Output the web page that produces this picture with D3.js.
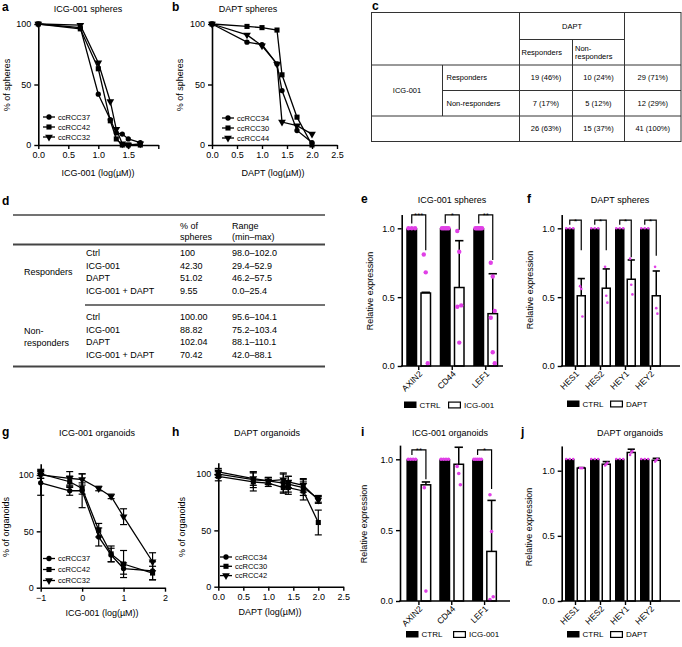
<!DOCTYPE html>
<html><head><meta charset="utf-8">
<script src="https://cdn.jsdelivr.net/npm/d3@7"></script>
<style>
html,body{margin:0;padding:0;background:#fff;}
svg{display:block;}
</style></head><body>
<svg id="fig" width="682" height="647"></svg>
<script>
// ---------------- DATA ----------------
// a: ICG-001 spheres
const aDoses = [0, 0.7, 1.0, 1.2, 1.3, 1.4, 1.5, 1.7];
const aNames = ["ccRCC37", "ccRCC42", "ccRCC32"];
const aRCC37 = [100, 97, 42, 21, 10, 9, 5, 2];
const aRCC42 = [100, 96, 63, 20, 5, 0, 0, 0];
const aRCC32 = [100, 99, 68, 36, 13, 1, 0, 1];
// b: DAPT spheres
const bDoses = [0, 0.7, 1.0, 1.3, 1.4, 1.7, 2.0];
const bNames = ["ccRCC34", "ccRCC30", "ccRCC44"];
const bRCC34 = [100, 85, 83, 67, 45, 12, 2];
const bRCC30 = [100, 98, 97, 95, 58, 23, 0];
const bRCC44 = [100, 91, 82, 67, 19, 16, 9];
// c: contingency table
const cDrugRow = "ICG-001";
const cDrugCol = "DAPT";
const cColHeads = [["Responders"], ["Non-", "responders"]];
const cRowHeads = ["Responders", "Non-responders"];
const cValues = [["19 (46%)", "10 (24%)", "29 (71%)"], ["7 (17%)", "5 (12%)", "12 (29%)"]];
const cTotals = ["26 (63%)", "15 (37%)", "41 (100%)"];
// d: summary table
const dHead = [["% of", "spheres"], ["Range", "(min\u2013max)"]];
const dGroups = [["Responders"], ["Non-", "responders"]];
const dTreatments = ["Ctrl", "ICG-001", "DAPT", "ICG-001 + DAPT"];
const dRespPct = ["100", "42.30", "51.02", "9.55"];
const dRespRange = ["98.0\u2013102.0", "29.4\u201352.9", "46.2\u201357.5", "0.0\u201325.4"];
const dNonPct = ["100.00", "88.82", "102.04", "70.42"];
const dNonRange = ["95.6\u2013104.1", "75.2\u2013103.4", "88.1\u2013110.1", "42.0\u201388.1"];
// e: ICG-001 spheres qPCR
const eGenes = ["AXIN2", "CD44", "LEF1"];
const eCtrl = [1, 1, 1];
const eTreat = [0.53, 0.57, 0.38];
const eSd = [0.005, 0.34, 0.29];
const eCtrlDots = [[1, 1, 1], [1, 1, 1, 1, 1], [1, 1, 1, 1, 1, 1]];
const eTreatDots = [[0.81, 0.68, 0.02], [0.98, 0.83, 0.44, 0.43, 0.17], [0.75, 0.65, 0.40, 0.35, 0.10, 0.02]];
const eStars = ["***", "*", "**"];
const eLegEnd = [0.84, 0.99, 0.77];
// f: DAPT spheres qPCR
const fGenes = ["HES1", "HES2", "HEY1", "HEY2"];
const fCtrl = [1, 1, 1, 1];
const fTreat = [0.51, 0.565, 0.63, 0.51];
const fSd = [0.125, 0.14, 0.14, 0.18];
const fCtrlDots = [[1, 1, 1], [1, 1, 1], [1, 1, 1], [1, 1, 1]];
const fTreatDots = [[0.58, 0.56, 0.36], [0.72, 0.51, 0.46], [0.78, 0.59, 0.52], [0.72, 0.42, 0.38]];
const fStars = ["*", "*", "*", "*"];
const fLegEnd = [0.84, 0.84, 0.79, 0.80];
// g: ICG-001 organoids
const gDoses = [-1, -0.3, 0, 0.4, 0.7, 1.0, 1.7];
const gNames = ["ccRCC37", "ccRCC42", "ccRCC32"];
const gRCC37 = [93, 86, 86, 45, 29, 17, 15];
const gRCC37sd = [11, 4, 15, 8, 6, 5, 8];
const gRCC42 = [101, 94, 88, 51, 30, 21, 13];
const gRCC42sd = [4, 5, 5, 6, 7, 12, 6];
const gRCC32 = [100, 97, 96, 88, 81, 63, 23];
const gRCC32sd = [3, 6, 5, 2, 2, 7, 8];
// h: DAPT organoids
const hDoses = [0, 0.7, 1.0, 1.3, 1.4, 1.7, 2.0];
const hNames = ["ccRCC34", "ccRCC30", "ccRCC42"];
const hRCC34 = [100, 95, 94, 92, 91, 88, 78];
const hRCC34sd = [3, 7, 3, 8, 7, 7, 3];
const hRCC30 = [98, 93, 92, 88, 88, 85, 57];
const hRCC30sd = [4, 8, 3, 5, 6, 8, 11];
const hRCC42 = [102, 96, 94, 95, 93, 90, 77];
const hRCC42sd = [3, 6, 3, 6, 5, 6, 3];
// i: ICG-001 organoids qPCR
const iGenes = ["AXIN2", "CD44", "LEF1"];
const iCtrl = [1, 1, 1];
const iTreat = [0.82, 0.965, 0.35];
const iSd = [0.02, 0.12, 0.36];
const iCtrlDots = [[1, 1, 1, 1], [1, 1, 1, 1], [1, 1, 1, 1, 1]];
const iTreatDots = [[0.80, 0.07], [0.95, 0.90, 0.82], [0.75, 0.49, 0.03, 0.01]];
const iStars = ["**", "", "*"];
const iLegEnd = [0.86, null, 0.79];
// j: DAPT organoids qPCR
const jGenes = ["HES1", "HES2", "HEY1", "HEY2"];
const jCtrl = [1.09, 1.09, 1.09, 1.09];
const jTreat = [1.02, 1.05, 1.14, 1.08];
const jSd = [0.004, 0.02, 0.025, 0.015];
const jCtrlDots = [[1.09, 1.09, 1.09], [1.09, 1.09, 1.09], [1.09, 1.09, 1.09], [1.09, 1.09, 1.09]];
const jTreatDots = [[1.02, 1.02, 1.02], [1.04, 1.05, 1.06], [1.12, 1.14, 1.15], [1.07, 1.08, 1.09]];

// ---------------- DRAWING ----------------
const FAM = "'Liberation Sans', Arial, Helvetica, sans-serif";
const MAG = "#e040e6";
const svg = d3.select("#fig").attr("font-family", FAM);

function txt(t, x, y, size, anchor, weight) {
  return svg.append("text").attr("x", x).attr("y", y).attr("font-size", size)
    .attr("text-anchor", anchor || "start").attr("font-weight", weight || "normal")
    .attr("fill", "#000").text(t);
}
function vtxt(t, x, y, size) {
  return svg.append("text").attr("transform", `translate(${x},${y}) rotate(-90)`)
    .attr("font-size", size).attr("text-anchor", "middle").attr("fill", "#000").text(t);
}
function letter(t, x, y) { txt(t, x, y, 12, "start", "bold"); }
function line(x1, y1, x2, y2, w, c) {
  svg.append("line").attr("x1", x1).attr("y1", y1).attr("x2", x2).attr("y2", y2)
    .attr("stroke", c || "#000").attr("stroke-width", w || 1);
}
function styleAxis(g) {
  g.attr("font-family", FAM).attr("font-size", 9);
  g.select(".domain").attr("stroke", "#000").attr("stroke-width", 1.6);
  g.selectAll(".tick line").attr("stroke", "#000").attr("stroke-width", 1.4);
  g.selectAll(".tick text").attr("fill", "#000");
}
const symTypes = [d3.symbolCircle, d3.symbolSquare, d3.symbolTriangle];
function marker(x, y, k) {
  const p = svg.append("path").attr("d", d3.symbol().type(symTypes[k]).size(k === 0 ? 22 : 26)())
    .attr("fill", "#000");
  p.attr("transform", k === 2 ? `translate(${x},${y}) rotate(180)` : `translate(${x},${y})`);
}

function linePanel(o) {
  const x = d3.scaleLinear().domain(o.xDomain).range(o.xRange);
  const y = d3.scaleLinear().domain(o.yDomain).range(o.yRange);
  o.series.forEach((s, k) => {
    const pts = o.doses.map((d, j) => ({ x: d, y: s.v[j], sd: s.sd ? s.sd[j] : 0 }));
    if (s.sd) {
      pts.forEach(p => {
        const cx = x(p.x);
        line(cx, y(p.y - p.sd), cx, y(p.y + p.sd), 1.2);
        line(cx - 3.5, y(p.y - p.sd), cx + 3.5, y(p.y - p.sd), 1.2);
        line(cx - 3.5, y(p.y + p.sd), cx + 3.5, y(p.y + p.sd), 1.2);
      });
    }
    svg.append("path").datum(pts)
      .attr("d", d3.line().x(p => x(p.x)).y(p => y(p.y)))
      .attr("fill", "none").attr("stroke", "#000").attr("stroke-width", 1.3);
    pts.forEach(p => marker(x(p.x), y(p.y), k));
  });
  const gx = svg.append("g").attr("transform", `translate(0,${o.yRange[0]})`)
    .call(d3.axisBottom(x).tickValues(o.xTicks).tickFormat(o.xFmt).tickSize(4).tickSizeOuter(0).tickPadding(3));
  styleAxis(gx);
  const gy = svg.append("g").attr("transform", `translate(${o.xRange[0]},0)`)
    .call(d3.axisLeft(y).tickValues([0, 50, 100]).tickFormat(d3.format("d")).tickSize(4).tickSizeOuter(0).tickPadding(3));
  styleAxis(gy);
  txt(o.title, o.titleX, o.titleY, 9, "middle");
  txt(o.xLabel, o.xLabelX, o.xLabelY, 9, "middle");
  vtxt(o.yLabel, o.yLabelX, o.yLabelY, 9);
  o.names.forEach((n, k) => {
    const ly = o.legY + k * o.legDy;
    line(o.legX, ly, o.legX + 12, ly, 1.3);
    marker(o.legX + 6, ly, k);
    txt(n, o.legX + 15, ly + 2.7, 7.5);
  });
}

function barPanel(o) {
  const y = d3.scaleLinear().domain([0, o.yTopVal]).range([o.y0, o.y0 - o.yTopVal * o.ppu]);
  const x = d3.scaleBand().domain(o.genes).range(o.bandRange).padding(0);
  o.genes.forEach((gname, i) => {
    const c = x(gname) + x.bandwidth() / 2;
    const bx = c - o.gap / 2 - o.w, wx = c + o.gap / 2;
    svg.append("rect").attr("x", bx).attr("y", y(o.ctrl[i])).attr("width", o.w)
      .attr("height", o.y0 - y(o.ctrl[i])).attr("fill", "#000");
    svg.append("rect").attr("x", wx + 0.75).attr("y", y(o.treat[i]))
      .attr("width", o.w - 1.5).attr("height", o.y0 - y(o.treat[i]))
      .attr("fill", "#fff").attr("stroke", "#000").attr("stroke-width", 1.5);
    const wc = wx + o.w / 2;
    const top = y(o.treat[i] + o.sd[i]);
    line(wc, y(o.treat[i]), wc, top, 1.5);
    line(wc - o.w * 0.38, top, wc + o.w * 0.38, top, 1.6);
    const cd = o.ctrlDots[i];
    cd.forEach((v, j) => {
      const px = cd.length > 1 ? bx + o.r + j * (o.w - 2 * o.r) / (cd.length - 1) : bx + o.w / 2;
      svg.append("circle").attr("cx", px).attr("cy", y(v)).attr("r", o.r).attr("fill", MAG);
    });
    o.treatDots[i].forEach((v, j) => {
      const off = ((j % 3) - 1) * o.r * 0.9;
      svg.append("circle").attr("cx", wc + off).attr("cy", y(v)).attr("r", o.r).attr("fill", MAG);
    });
    if (o.stars && o.stars[i]) {
      const bc = bx + o.w / 2;
      const bt = y(o.bTop);
      svg.append("path")
        .attr("d", `M${bc},${y(o.bLeft)}V${bt}H${wc}V${y(o.legEnd[i])}`)
        .attr("fill", "none").attr("stroke", "#000").attr("stroke-width", 1.2);
      txt(o.stars[i], (bc + wc) / 2, bt + 3.5, 8, "middle");
    }
  });
  const gy = svg.append("g").attr("transform", `translate(${o.yAxisX},0)`)
    .call(d3.axisLeft(y).tickValues([0, 0.5, 1]).tickFormat(d3.format(".1f")).tickSize(4).tickSizeOuter(0).tickPadding(3));
  styleAxis(gy);
  line(o.yAxisX - 0.8, o.y0, o.xEnd, o.y0, 1.6);
  o.genes.forEach(gname => {
    const c = x(gname) + x.bandwidth() / 2;
    line(c, o.y0, c, o.y0 + 4, 1.4);
    svg.append("text").attr("transform", `translate(${c + 4},${o.y0 + 8.5}) rotate(-45)`)
      .attr("text-anchor", "end").attr("font-size", 8.5).attr("fill", "#000").text(gname);
  });
  txt(o.title, o.titleX, o.titleY, 9, "middle");
  vtxt("Relative expression", o.yLabelX, o.yLabelY, 9);
  svg.append("rect").attr("x", o.legX).attr("y", o.legY).attr("width", 12.5).attr("height", 6.5).attr("fill", "#000");
  txt("CTRL", o.legX + 15.5, o.legY + 6.4, 8);
  svg.append("rect").attr("x", o.legX2 + 0.6).attr("y", o.legY + 0.6).attr("width", 11.8).attr("height", 5.8)
    .attr("fill", "#fff").attr("stroke", "#000").attr("stroke-width", 1.2);
  txt(o.treatName, o.legX2 + 16, o.legY + 6.4, 8);
}

const fmt1 = d3.format(".1f");

// ---- panel a ----
letter("a", 2, 11);
linePanel({
  xDomain: [0, 2], xRange: [38.3, 158.3], yDomain: [0, 100], yRange: [145, 24],
  xTicks: [0, 0.5, 1, 1.5, 2], xFmt: d => d === 2 ? "" : fmt1(d),
  doses: aDoses, series: [{ v: aRCC37 }, { v: aRCC42 }, { v: aRCC32 }], names: aNames,
  title: "ICG-001 spheres", titleX: 88, titleY: 12,
  xLabel: "ICG-001 (log(\u00b5M))", xLabelX: 98, xLabelY: 176,
  yLabel: "% of spheres", yLabelX: 10, yLabelY: 85,
  legX: 43, legY: 117, legDy: 10
});
// ---- panel b ----
letter("b", 172, 11);
linePanel({
  xDomain: [0, 2.5], xRange: [212, 337], yDomain: [0, 100], yRange: [145, 24],
  xTicks: [0, 0.5, 1, 1.5, 2, 2.5], xFmt: fmt1,
  doses: bDoses, series: [{ v: bRCC34 }, { v: bRCC30 }, { v: bRCC44 }], names: bNames,
  title: "DAPT spheres", titleX: 248, titleY: 12,
  xLabel: "DAPT (log(\u00b5M))", xLabelX: 273, xLabelY: 176,
  yLabel: "% of spheres", yLabelX: 183, yLabelY: 85,
  legX: 222, legY: 118, legDy: 10
});

// ---- panel c (table) ----
letter("c", 372, 10);
{
  const xs = [371.5, 442.5, 519.5, 572.5, 624.5, 681];
  const ys = [12.5, 39.5, 65, 90.5, 116, 141.5];
  const lc = "#333";
  svg.append("rect").attr("x", xs[0]).attr("y", ys[0]).attr("width", xs[5] - xs[0]).attr("height", ys[5] - ys[0])
    .attr("fill", "none").attr("stroke", lc).attr("stroke-width", 1);
  line(xs[2], ys[1], xs[4], ys[1], 1, lc);
  line(xs[0], ys[2], xs[5], ys[2], 1, lc);
  line(xs[1], ys[3], xs[5], ys[3], 1, lc);
  line(xs[0], ys[4], xs[5], ys[4], 1, lc);
  line(xs[1], ys[2], xs[1], ys[4], 1, lc);
  line(xs[2], ys[0], xs[2], ys[5], 1, lc);
  line(xs[3], ys[1], xs[3], ys[5], 1, lc);
  line(xs[4], ys[0], xs[4], ys[5], 1, lc);
  const fs = 7.5;
  txt(cDrugCol, (xs[2] + xs[4]) / 2, (ys[0] + ys[1]) / 2 + 2.6, fs, "middle");
  txt(cColHeads[0][0], xs[2] + 2, (ys[1] + ys[2]) / 2 + 2.6, fs);
  txt(cColHeads[1][0], xs[3] + 2.5, (ys[1] + ys[2]) / 2 - 1.6, fs);
  txt(cColHeads[1][1], xs[3] + 2.5, (ys[1] + ys[2]) / 2 + 7, fs);
  txt(cDrugRow, (xs[0] + xs[1]) / 2, ys[3] + 2.6, fs, "middle");
  cRowHeads.forEach((r, i) => {
    const cy = (ys[2 + i] + ys[3 + i]) / 2 + 2.6;
    txt(r, xs[1] + 4, cy, fs);
    cValues[i].forEach((v, j) => txt(v, (xs[2 + j] + xs[3 + j]) / 2, cy, fs, "middle"));
  });
  cTotals.forEach((v, j) => txt(v, (xs[2 + j] + xs[3 + j]) / 2, (ys[4] + ys[5]) / 2 + 2.6, fs, "middle"));
}

// ---- panel d (table) ----
letter("d", 2, 205);
{
  const lc = "#444", fs = 9;
  const x0 = 13, x1 = 325, colT = 86, colP = 180, colR = 232;
  line(x0, 215, x1, 215, 1.4, lc);
  txt(dHead[0][0], colP, 229, fs); txt(dHead[0][1], colP, 239.5, fs);
  txt(dHead[1][0], colR, 229, fs); txt(dHead[1][1], colR, 239.5, fs);
  line(x0, 244.5, x1, 244.5, 2, lc);
  const r1 = [256.2, 268.8, 281.4, 294];
  dTreatments.forEach((t, i) => {
    txt(t, colT, r1[i], fs); txt(dRespPct[i], colP, r1[i], fs); txt(dRespRange[i], colR, r1[i], fs);
  });
  txt(dGroups[0][0], 24, 275, fs);
  line(colT - 1, 305, x1, 305, 1.6, lc);
  const r2 = [320, 332.8, 345.4, 358.2];
  dTreatments.forEach((t, i) => {
    txt(t, colT, r2[i], fs); txt(dNonPct[i], colP, r2[i], fs); txt(dNonRange[i], colR, r2[i], fs);
  });
  txt(dGroups[1][0], 24, 333.5, fs); txt(dGroups[1][1], 24, 346, fs);
  line(x0, 366.5, x1, 366.5, 2, lc);
}

// ---- panel e ----
letter("e", 361, 203);
barPanel({
  genes: eGenes, ctrl: eCtrl, treat: eTreat, sd: eSd, ctrlDots: eCtrlDots, treatDots: eTreatDots,
  stars: eStars, legEnd: eLegEnd, bTop: 1.097, bLeft: 1.035,
  y0: 366, ppu: 137.7, yTopVal: 1.1, yAxisX: 401.7, xEnd: 503, bandRange: [402, 502.5],
  w: 11, gap: 3, r: 2.2,
  title: "ICG-001 spheres", titleX: 452, titleY: 203, yLabelX: 373, yLabelY: 291,
  legX: 404, legY: 401.5, legX2: 448, treatName: "ICG-001"
});
// ---- panel f ----
letter("f", 527, 203);
barPanel({
  genes: fGenes, ctrl: fCtrl, treat: fTreat, sd: fSd, ctrlDots: fCtrlDots, treatDots: fTreatDots,
  stars: fStars, legEnd: fLegEnd, bTop: 1.06, bLeft: 1.025,
  y0: 366, ppu: 137.7, yTopVal: 1.1, yAxisX: 561.7, xEnd: 680, bandRange: [563, 663],
  w: 9.5, gap: 2, r: 1.3,
  title: "DAPT spheres", titleX: 620, titleY: 203, yLabelX: 533, yLabelY: 290,
  legX: 567, legY: 400.5, legX2: 610, treatName: "DAPT"
});

// ---- panel g ----
letter("g", 2, 436);
linePanel({
  xDomain: [-1, 2], xRange: [40.7, 165], yDomain: [0, 110], yRange: [587.7, 463.7],
  xTicks: [-1, 0, 1, 2], xFmt: d => d < 0 ? "\u2212" + Math.abs(d) : String(d),
  doses: gDoses, series: [{ v: gRCC37, sd: gRCC37sd }, { v: gRCC42, sd: gRCC42sd }, { v: gRCC32, sd: gRCC32sd }],
  names: gNames,
  title: "ICG-001 organoids", titleX: 97, titleY: 436,
  xLabel: "ICG-001 (log(\u00b5M))", xLabelX: 102, xLabelY: 616,
  yLabel: "% of organoids", yLabelX: 8.5, yLabelY: 527,
  legX: 43, legY: 558.5, legDy: 11
});
// ---- panel h ----
letter("h", 172, 436);
linePanel({
  xDomain: [0, 2.5], xRange: [218.3, 343.3], yDomain: [0, 110], yRange: [586.7, 462.8],
  xTicks: [0, 0.5, 1, 1.5, 2, 2.5], xFmt: fmt1,
  doses: hDoses, series: [{ v: hRCC34, sd: hRCC34sd }, { v: hRCC30, sd: hRCC30sd }, { v: hRCC42, sd: hRCC42sd }],
  names: hNames,
  title: "DAPT organoids", titleX: 267, titleY: 436,
  xLabel: "DAPT (log(\u00b5M))", xLabelX: 270, xLabelY: 615,
  yLabel: "% of organoids", yLabelX: 185, yLabelY: 527,
  legX: 220, legY: 557, legDy: 9.3
});

// ---- panel i ----
letter("i", 361, 436);
barPanel({
  genes: iGenes, ctrl: iCtrl, treat: iTreat, sd: iSd, ctrlDots: iCtrlDots, treatDots: iTreatDots,
  stars: iStars, legEnd: iLegEnd, bTop: 1.066, bLeft: 1.03,
  y0: 601, ppu: 141.7, yTopVal: 1.1, yAxisX: 400, xEnd: 510, bandRange: [402.5, 501],
  w: 11, gap: 3, r: 1.8,
  title: "ICG-001 organoids", titleX: 450, titleY: 436, yLabelX: 367, yLabelY: 524,
  legX: 406, legY: 631, legX2: 453, treatName: "ICG-001"
});
// ---- panel j ----
letter("j", 521, 436);
barPanel({
  genes: jGenes, ctrl: jCtrl, treat: jTreat, sd: jSd, ctrlDots: jCtrlDots, treatDots: jTreatDots,
  stars: null, legEnd: null,
  y0: 601, ppu: 130.3, yTopVal: 1.19, yAxisX: 561.7, xEnd: 680, bandRange: [563, 663],
  w: 9.5, gap: 2, r: 1.3,
  title: "DAPT organoids", titleX: 630, titleY: 436, yLabelX: 532, yLabelY: 527,
  legX: 567, legY: 631, legX2: 610, treatName: "DAPT"
});
</script>
</body></html>
